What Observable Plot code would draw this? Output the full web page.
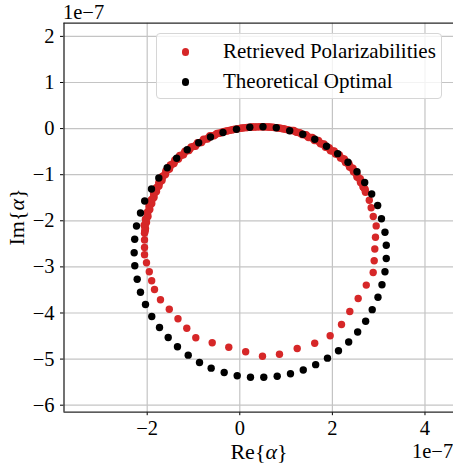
<!DOCTYPE html>
<html>
<head>
<meta charset="utf-8">
<script src="https://cdn.jsdelivr.net/npm/d3@7"></script>
<script src="https://cdn.jsdelivr.net/npm/@observablehq/plot@0.6"></script>
<style>
  html, body { margin: 0; padding: 0; background: #fff; overflow: hidden; }
  #fig { position: relative; width: 453px; height: 466px; font-family: "Liberation Serif", "Times New Roman", serif; color: #000; }
  #fig svg { position: absolute; left: 0; top: 0; }
  .txt { position: absolute; white-space: nowrap; line-height: 1; }
  .legend { position: absolute; left: 156px; top: 33px; width: 286px; height: 66px; box-sizing: border-box;
            border: 1px solid #d6d6d6; border-radius: 4px; background: rgba(255,255,255,0.8); }
  .legend .row { position: absolute; left: 0; height: 30px; }
  .legend .sw { position: absolute; left: 25px; width: 7.4px; height: 7.4px; border-radius: 50%; }
  .legend .lab { position: absolute; left: 66px; font-size: 21px; line-height: 1; white-space: nowrap; }
  .ital { font-style: italic; }
</style>
</head>
<body>
<div id="fig"></div>
<script>
// Polarizability values, in units of 1e-7
const offsetLabel = "1e\u22127";

// Retrieved polarizabilities (real and imaginary parts)
const retrievedRe = [
  -2.058, -2.037, -2.015, -1.983, -1.944, -1.901, -1.853, -1.799, -1.745, -1.680,
  -1.605, -1.518, -1.421, -1.324, -1.216, -1.097, -0.957, -0.827, -0.698, -0.557,
  -0.417, -0.276, -0.136, 0.015, 0.160, 0.296, 0.447, 0.577, 0.706, 0.836,
  0.965, 1.095, 1.225, 1.354, 1.484, 1.613, 1.743, 1.851, 1.959, 2.067,
  2.175, 2.283, 2.369, 2.456, 2.531, 2.607, 2.661, 2.715, 2.797, 2.838,
  2.883, 2.946, 2.931, 2.916, 2.903, 2.881, 2.732, 2.557, 2.376, 2.197,
  1.952, 1.618, 1.240, 0.857, 0.490, 0.127, -0.238, -0.596, -0.950, -1.145,
  -1.335, -1.523, -1.713, -1.842, -1.903, -1.955, -2.015, -2.058, -2.058, -2.058,
  // densely sampled stretch along the upper arc
  -2.048, -2.066, -2.038, -2.003, -1.961, -1.914, -1.862, -1.808, -1.748, -1.676,
  -1.594, -1.500, -1.402, -1.297, -1.183, -1.051, -0.913, -0.782, -0.645, -0.494,
  -0.350, -0.206, -0.061, 0.088, 0.228, 0.372, 0.512, 0.642, 0.771, 0.901,
  1.030, 1.166, 1.297, 1.431, 1.567, 1.698, 1.819, 1.929, 2.038, 2.148,
  2.257, 2.356, 2.444, 2.527, 2.603, 2.669, 2.706,
  -2.053, -2.043, -2.052, -2.041, -2.027, -2.011, -1.993, -1.974, -1.953, -1.931,
  -1.908, -1.884, -1.858, -1.831, -1.804, -1.777, -1.747, -1.714, -1.678, -1.641,
  -1.600, -1.556, -1.509, -1.461, -1.412, -1.363, -1.311, -1.257, -1.200, -1.140,
  -1.074, -1.004, -0.935, -0.870, -0.805, -0.740, -0.672, -0.601, -0.526, -0.456,
  -0.384, -0.313, -0.241, -0.171, -0.099, -0.023, 0.052, 0.124, 0.194, 0.262,
  0.334, 0.410, 0.480, 0.545, 0.610, 0.674, 0.739, 0.804, 0.869, 0.933,
  0.998, 1.063, 1.131, 1.196, 1.261, 1.326, 1.393, 1.458, 1.526, 1.590,
  1.656, 1.721, 1.781, 1.835, 1.890, 1.944, 1.999, 2.053, 2.108, 2.162,
  2.216, 2.270, 2.320, 2.363, 2.407, 2.450, 2.492, 2.529, 2.567, 2.605,
  2.638, 2.665, 2.684, 2.711
];
const retrievedIm = [
  -2.269, -2.167, -2.037, -1.907, -1.755, -1.625, -1.495, -1.364, -1.245, -1.126,
  -0.996, -0.876, -0.757, -0.659, -0.568, -0.475, -0.382, -0.302, -0.226, -0.156,
  -0.095, -0.052, -0.020, 0.007, 0.024, 0.035, 0.039, 0.037, 0.028, 0.013,
  -0.009, -0.041, -0.082, -0.132, -0.193, -0.258, -0.330, -0.406, -0.482, -0.551,
  -0.638, -0.735, -0.833, -0.937, -1.050, -1.169, -1.267, -1.380, -1.553, -1.718,
  -1.907, -2.111, -2.356, -2.612, -2.868, -3.121, -3.395, -3.686, -3.967, -4.249,
  -4.495, -4.655, -4.770, -4.894, -4.939, -4.842, -4.742, -4.646, -4.538, -4.332,
  -4.126, -3.920, -3.714, -3.490, -3.302, -3.106, -2.911, -2.738, -2.579, -2.417,
  // densely sampled stretch along the upper arc
  -2.218, -2.096, -1.964, -1.821, -1.678, -1.546, -1.414, -1.287, -1.166, -1.039,
  -0.912, -0.791, -0.680, -0.585, -0.491, -0.397, -0.308, -0.229, -0.155, -0.107,
  -0.065, -0.036, -0.007, 0.016, 0.030, 0.037, 0.038, 0.033, 0.021, 0.002,
  -0.025, -0.043, -0.088, -0.135, -0.190, -0.259, -0.334, -0.412, -0.486, -0.565,
  -0.659, -0.757, -0.860, -0.971, -1.089, -1.198, -1.315,
  -2.244, -2.193, -2.132, -2.067, -2.001, -1.936, -1.864, -1.788, -1.717, -1.652,
  -1.586, -1.521, -1.455, -1.389, -1.326, -1.266, -1.206, -1.146, -1.083, -1.018,
  -0.954, -0.894, -0.834, -0.774, -0.719, -0.670, -0.622, -0.577, -0.530, -0.483,
  -0.436, -0.390, -0.345, -0.305, -0.266, -0.228, -0.191, -0.156, -0.132, -0.101,
  -0.080, -0.059, -0.044, -0.028, -0.014, 0.000, 0.012, 0.020, 0.027, 0.033,
  0.036, 0.038, 0.039, 0.038, 0.035, 0.031, 0.025, 0.017, 0.008, -0.004,
  -0.017, -0.033, -0.042, -0.063, -0.085, -0.110, -0.134, -0.164, -0.192, -0.225,
  -0.259, -0.295, -0.332, -0.370, -0.409, -0.447, -0.484, -0.519, -0.558, -0.602,
  -0.649, -0.697, -0.746, -0.795, -0.847, -0.899, -0.954, -1.011, -1.070, -1.129,
  -1.184, -1.233, -1.291, -1.348
];

// Theoretical optimal polarizabilities (real and imaginary parts)
const optimalRe = [
  -0.071, 0.216, 0.501, 0.788, 1.078, 1.361, 1.620, 1.873, 2.114, 2.337,
  2.531, 2.698, 2.849, 2.978, 3.060, 3.136, 3.164, 3.164, 3.136, 3.071,
  2.985, 2.860, 2.719, 2.546, 2.352, 2.132, 1.894, 1.639, 1.371, 1.095,
  0.808, 0.518, 0.231, -0.056, -0.337, -0.618, -0.870, -1.114, -1.346, -1.546,
  -1.734, -1.901, -2.037, -2.145, -2.216, -2.268, -2.281, -2.270, -2.231, -2.145,
  -2.054, -1.907, -1.749, -1.568, -1.363, -1.136, -0.888, -0.633, -0.363
];
const optimalIm = [
  -0.013, 0.030, 0.041, 0.017, -0.046, -0.124, -0.232, -0.382, -0.544, -0.731,
  -0.935, -1.169, -1.419, -1.668, -1.957, -2.249, -2.529, -2.818, -3.106, -3.386,
  -3.659, -3.928, -4.178, -4.412, -4.629, -4.818, -4.980, -5.121, -5.236, -5.319,
  -5.373, -5.393, -5.393, -5.360, -5.291, -5.197, -5.074, -4.915, -4.733, -4.531,
  -4.315, -4.076, -3.816, -3.549, -3.267, -2.976, -2.694, -2.399, -2.113, -1.831,
  -1.570, -1.310, -1.072, -0.850, -0.642, -0.460, -0.308, -0.182, -0.085
];

const seriesNames = ["Retrieved Polarizabilities", "Theoretical Optimal"];
const seriesColors = ["#d62728", "#000000"];

const xTicks = [-2, 0, 2, 4];
const yTicks = [-6, -5, -4, -3, -2, -1, 0, 1, 2];
const xDomain = [-3.797, 4.616];
const yDomain = [-6.152, 2.286];

const retrieved = retrievedRe.map((re, i) => ({re, im: retrievedIm[i]}));
const optimal = optimalRe.map((re, i) => ({re, im: optimalIm[i]}));

const gridStyle = {stroke: "#c4c4c4", strokeWidth: 1.2};
const spineStyle = {stroke: "#262626", strokeWidth: 1.3};

const chart = Plot.plot({
  width: 453,
  height: 466,
  marginTop: 22.7,
  marginBottom: 54.3,
  marginLeft: 63.5,
  marginRight: 0,
  style: {fontFamily: "'Liberation Serif', 'Times New Roman', serif", fontSize: "20.5px", background: "transparent", color: "#000", overflow: "visible"},
  x: {domain: xDomain, ticks: xTicks, tickSize: 3.5, tickPadding: 4.5, label: null},
  y: {domain: yDomain, ticks: yTicks, tickSize: 3.5, tickPadding: 6, label: null},
  marks: [
    Plot.ruleX(xTicks, gridStyle),
    Plot.ruleY(yTicks, gridStyle),
    Plot.dot(retrieved, {x: "re", y: "im", r: 3.7, fill: seriesColors[0], stroke: "none"}),
    Plot.dot(optimal, {x: "re", y: "im", r: 3.7, fill: seriesColors[1], stroke: "none"}),
    Plot.ruleX([xDomain[0]], spineStyle),
    Plot.ruleY([yDomain[0]], spineStyle),
    Plot.ruleY([yDomain[1]], spineStyle)
  ]
});

const fig = document.getElementById("fig");
fig.appendChild(chart);

function addText(html, css) {
  const d = document.createElement("div");
  d.className = "txt";
  d.innerHTML = html;
  Object.assign(d.style, css);
  fig.appendChild(d);
  return d;
}

// scale offset labels
addText(offsetLabel, {left: "63px", top: "2px", fontSize: "20.5px"});
addText(offsetLabel, {left: "412px", top: "441px", fontSize: "20.5px"});

// axis titles
addText('Re{<span class="ital">\u03b1</span>}', {left: "259px", top: "441px", fontSize: "22px", transform: "translateX(-50%)"});
addText('Im{<span class="ital">\u03b1</span>}', {left: "17px", top: "217px", fontSize: "22px", transform: "translate(-50%, -50%) rotate(-90deg)"});

// legend
const legend = document.createElement("div");
legend.className = "legend";
seriesNames.forEach((name, i) => {
  const row = document.createElement("div");
  row.className = "row";
  row.style.top = (3 + i * 30) + "px";
  row.style.width = "100%";
  const sw = document.createElement("div");
  sw.className = "sw";
  sw.style.background = seriesColors[i];
  sw.style.top = "11.3px";
  const lab = document.createElement("div");
  lab.className = "lab";
  lab.style.top = "4px";
  lab.textContent = name;
  row.appendChild(sw);
  row.appendChild(lab);
  legend.appendChild(row);
});
fig.appendChild(legend);
</script>
</body>
</html>
